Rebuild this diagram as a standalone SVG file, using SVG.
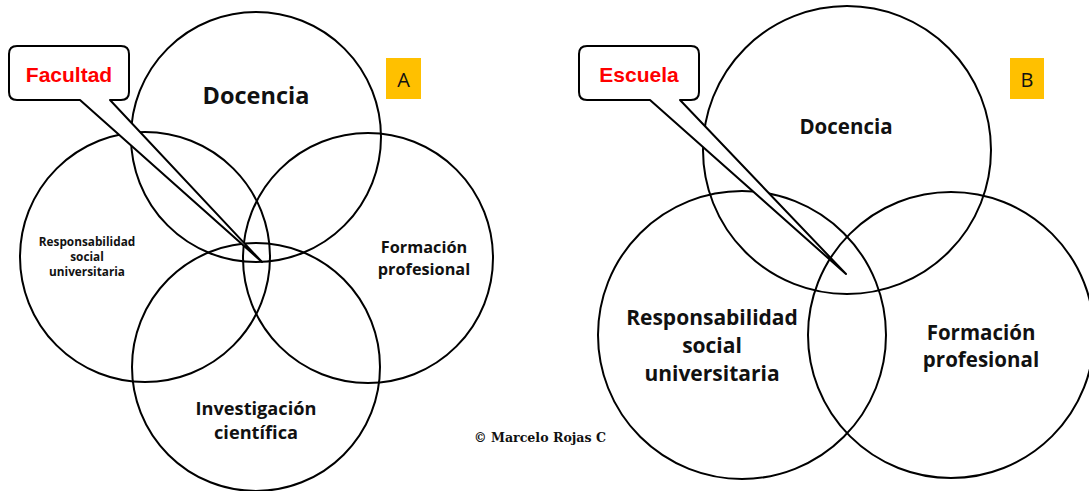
<svg xmlns="http://www.w3.org/2000/svg" width="1089" height="491" viewBox="0 0 1089 491">
<style>
.c{fill:none;stroke:#000;stroke-width:2}
.t{font-family:"Open Sans",Lato,sans-serif;font-weight:bold;fill:#111;text-anchor:middle}
.call{fill:#fff;stroke:#000;stroke-width:2;stroke-linejoin:round}
.red{font-family:"Liberation Sans Narrow","Liberation Sans",Arial,sans-serif;font-weight:bold;fill:#ff0000;text-anchor:middle;font-size:21px}
.tag{fill:#ffc000}
.lt{font-family:"Open Sans","Liberation Sans",sans-serif;font-size:20px;fill:#111;text-anchor:middle}
</style>
<rect width="1089" height="491" fill="#fff"/>
<g id="A-docencia"><circle class="c" cx="256" cy="137" r="125"/><text class="t" x="256" y="104" font-size="23.5">Docencia</text></g>
<g id="A-rsu"><circle class="c" cx="145" cy="257" r="125"/><text class="t" font-size="11.8"><tspan x="87" y="246">Responsabilidad</tspan><tspan x="87" y="261">social</tspan><tspan x="87" y="276">universitaria</tspan></text></g>
<g id="A-formacion"><circle class="c" cx="368" cy="258" r="125"/><text class="t" font-size="16.3"><tspan x="424" y="253">Formación</tspan><tspan x="424" y="275">profesional</tspan></text></g>
<g id="A-investigacion"><circle class="c" cx="256" cy="367" r="124"/><text class="t" font-size="18.2"><tspan x="256" y="415">Investigación</tspan><tspan x="256" y="439">científica</tspan></text></g>
<g id="A-facultad"><path class="call" d="M17 46 H121 Q129 46 129 54 V92 Q129 100 121 100 H110 L262 262 L80 100 H17 Q9 100 9 92 V54 Q9 46 17 46 Z"/><text class="red" x="69" y="82">Facultad</text></g>
<g id="A-tag"><rect class="tag" x="386" y="58" width="35" height="41"/><text class="lt" x="403.5" y="87">A</text></g>

<g id="B-docencia"><circle class="c" cx="847" cy="150" r="144"/><text class="t" x="846" y="134" font-size="20.5">Docencia</text></g>
<g id="B-rsu"><circle class="c" cx="742" cy="335" r="144"/><text class="t" font-size="21"><tspan x="712" y="325">Responsabilidad</tspan><tspan x="712" y="353">social</tspan><tspan x="712" y="381">universitaria</tspan></text></g>
<g id="B-formacion"><circle class="c" cx="951" cy="335" r="143"/><text class="t" font-size="20.5"><tspan x="981" y="340">Formación</tspan><tspan x="981" y="367">profesional</tspan></text></g>
<g id="B-escuela"><path class="call" d="M587 46 H691 Q699 46 699 54 V92 Q699 100 691 100 H680 L846 274 L650 100 H587 Q579 100 579 92 V54 Q579 46 587 46 Z"/><text class="red" x="639" y="82">Escuela</text></g>
<g id="B-tag"><rect class="tag" x="1010" y="58" width="34" height="41"/><text class="lt" x="1027" y="87">B</text></g>

<text x="540" y="442" font-family="'DejaVu Serif','Liberation Serif',serif" font-weight="bold" font-size="12.6" fill="#111" text-anchor="middle">© Marcelo Rojas C</text>
</svg>
